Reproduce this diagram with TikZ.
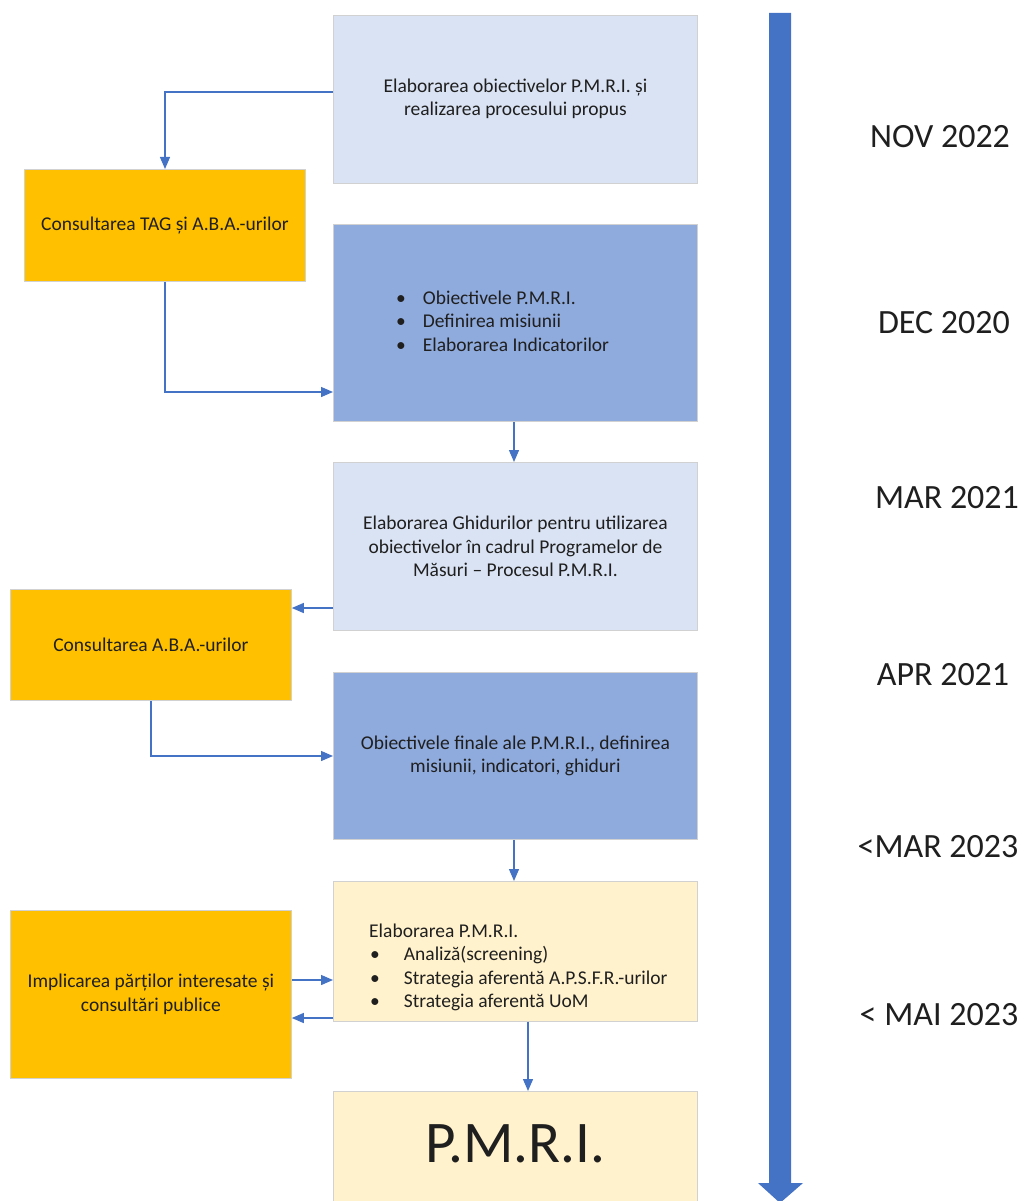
\documentclass[tikz,border=0pt]{standalone}
\usepackage{fontspec}
\setmainfont{Carlito}
\usetikzlibrary{arrows.meta,positioning}
\definecolor{lightbox}{HTML}{DAE3F3}
\definecolor{midbox}{HTML}{8FAADC}
\definecolor{orangebox}{HTML}{FFC000}
\definecolor{creambox}{HTML}{FFF2CC}
\definecolor{flowblue}{HTML}{4472C4}
\definecolor{txt}{HTML}{1F1F1F}
\begin{document}
\begin{tikzpicture}[x=1pt,y=-1pt,
  box/.style={draw=black!18, line width=0.8pt, anchor=north west, inner sep=0pt,
    text=txt, align=center, font=\fontsize{19.5}{23.5}\selectfont},
  lightb/.style={box, fill=lightbox},
  midb/.style={box, fill=midbox},
  orab/.style={box, fill=orangebox},
  creamb/.style={box, fill=creambox},
  flow/.style={draw=flowblue, line width=1.3pt, -{Triangle[length=12pt,width=10pt]}},
  date/.style={text=txt, font=\fontsize{34}{40}\selectfont, anchor=center},
  btxt/.style={text=txt, anchor=west, align=left, inner sep=0pt, font=\fontsize{19.5}{23.5}\selectfont}
]
\useasboundingbox (0,0) rectangle (1023,1201);

% timeline arrow
\fill[flowblue] (769,13) -- (791,13) -- (791,1183) -- (803,1183) -- (780,1203) -- (758,1183) -- (769,1183) -- cycle;

% boxes
\node[lightb, minimum width=364pt, minimum height=168pt] (b1) at (333,15)
  {\raisebox{-1.5pt}{\begin{tabular}{@{}c@{}}Elaborarea obiectivelor P.M.R.I. și\\realizarea procesului propus\end{tabular}}};
\node[orab, minimum width=281pt, minimum height=112pt] (o1) at (24,169)
  {Consultarea TAG și A.B.A.-urilor};
\node[midb, minimum width=364pt, minimum height=197pt] (b2) at (333,224) {};
\node[btxt] (b2t) at (396,323) {%
  \begin{tabular}{@{}l@{\hspace{17pt}}l@{}}
  \textbullet & Obiectivele P.M.R.I.\\
  \textbullet & Definirea misiunii\\
  \textbullet & Elaborarea Indicatorilor
  \end{tabular}};
\node[lightb, minimum width=364pt, minimum height=168pt] (b3) at (333,462)
  {Elaborarea Ghidurilor pentru utilizarea\\obiectivelor în cadrul Programelor de\\Măsuri – Procesul P.M.R.I.};
\node[orab, minimum width=281pt, minimum height=111pt] (o2) at (10,589)
  {Consultarea A.B.A.-urilor};
\node[midb, minimum width=364pt, minimum height=167pt] (b4) at (333,672)
  {Obiectivele finale ale P.M.R.I., definirea\\misiunii, indicatori, ghiduri};
\node[creamb, minimum width=364pt, minimum height=140pt] (b5) at (333,881) {};
\node[btxt] (b5t) at (369,968) {%
  \begin{tabular}{@{}l@{}}
  Elaborarea P.M.R.I.\\[-0.5pt]
  \hspace{1pt}\textbullet\hspace{24pt}Analiză(screening)\\
  \hspace{1pt}\textbullet\hspace{24pt}Strategia aferentă A.P.S.F.R.-urilor\\
  \hspace{1pt}\textbullet\hspace{24pt}Strategia aferentă UoM
  \end{tabular}};
\node[orab, minimum width=281pt, minimum height=168pt] (o3) at (10,910)
  {Implicarea părților interesate și\\consultări publice};
\node[creamb, minimum width=364pt, minimum height=120pt, font=\fontsize{59}{60}\selectfont] (b6) at (333,1091)
  {\raisebox{16pt}{P.M.R.I.}};

% dates
\node[date] (d1) at (940,137) {NOV 2022};
\node[date] (d2) at (944,323) {DEC 2020};
\node[date] (d3) at (947,498) {MAR 2021};
\node[date] (d4) at (943,675) {APR 2021};
\node[date] (d5) at (938,847) {<MAR 2023};
\node[date] (d6) at (939,1015) {< MAI 2023};

% connectors
\draw[flow] (b1.west |- 0,92) -| (o1.north -| 165,0);
\draw[flow] (o1.south -| 165,0) |- (b2.west |- 0,392);
\draw[flow] (b2.south -| 514,0) -- (b3.north -| 514,0);
\draw[flow] (b3.west |- 0,608) -- (o2.east |- 0,608);
\draw[flow] (o2.south -| 151,0) |- (b4.west |- 0,756);
\draw[flow] (b4.south -| 514,0) -- (b5.north -| 514,0);
\draw[flow] (o3.east |- 0,980) -- (b5.west |- 0,980);
\draw[flow] (b5.west |- 0,1018) -- (o3.east |- 0,1018);
\draw[flow] (b5.south -| 528,0) -- (b6.north -| 528,0);
\end{tikzpicture}
\end{document}
